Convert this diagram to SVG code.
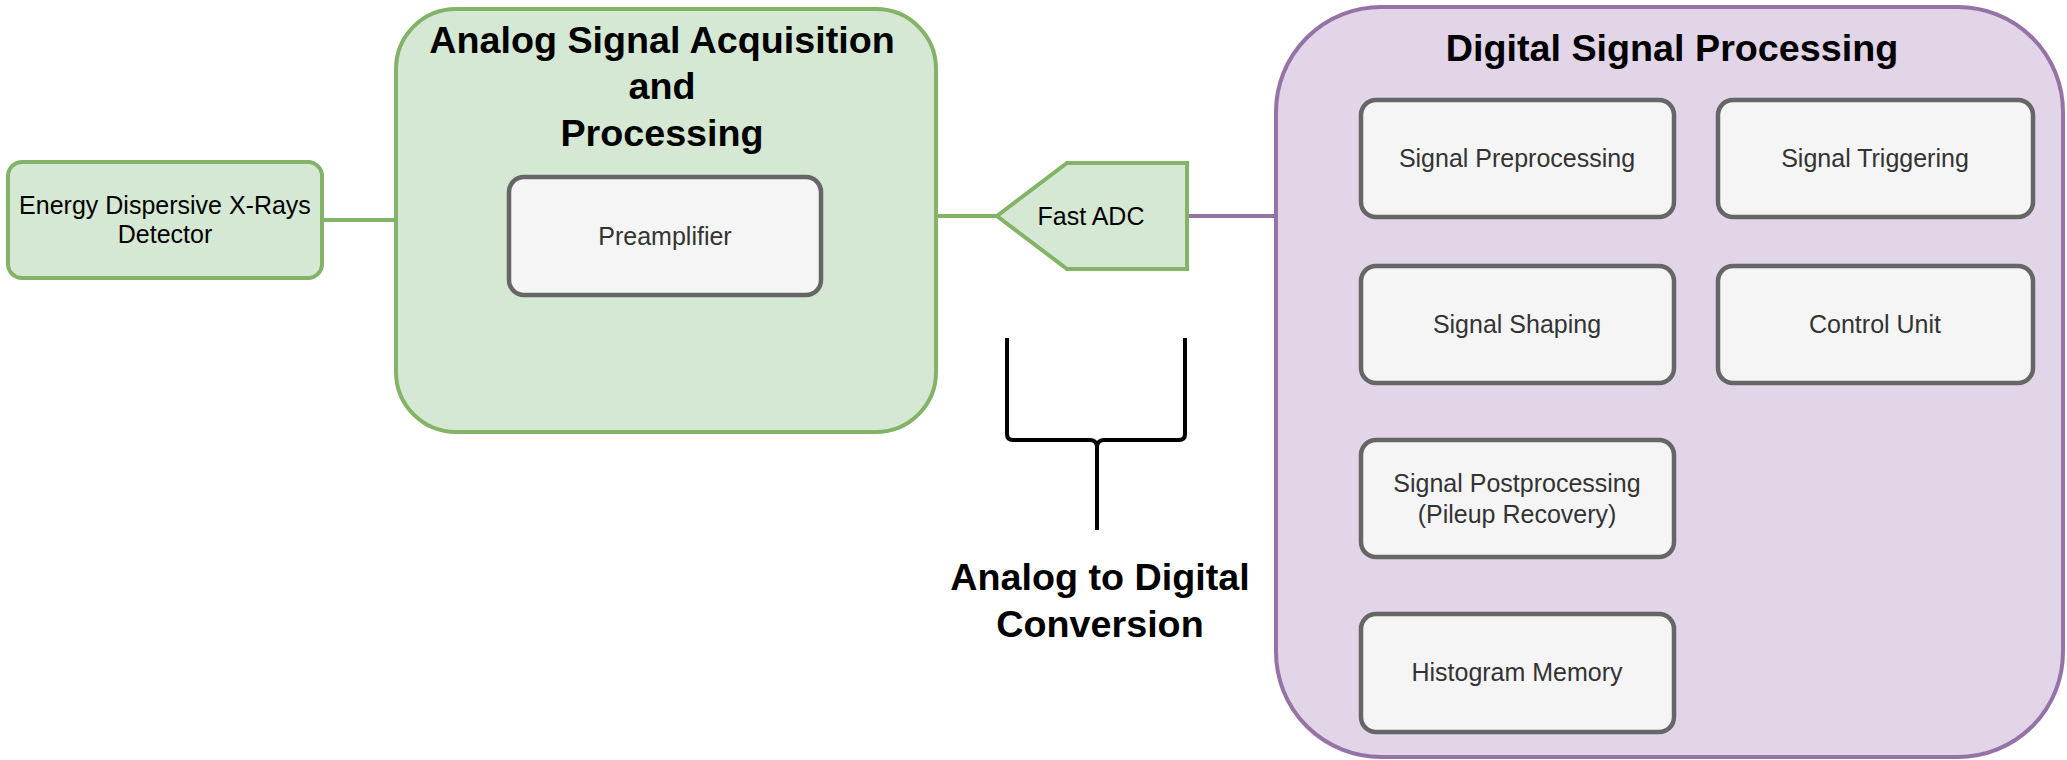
<svg xmlns="http://www.w3.org/2000/svg" width="2067" height="760" viewBox="0 0 2067 760">
<style>
.g{fill:#d5e8d4;stroke:#82b366;stroke-width:4}
.p{fill:#e1d5e7;stroke:#9673a6;stroke-width:4}
.w{fill:#f5f5f5;stroke:#666666;stroke-width:4.5}
.t{font-family:"Liberation Sans",Arial,sans-serif;font-size:25px;text-anchor:middle}
.d{fill:#333333}
.k{fill:#000000}
.b{font-family:"Liberation Sans",Arial,sans-serif;font-size:37.7px;font-weight:bold;text-anchor:middle;fill:#000000}
.cg{stroke:#82b366;stroke-width:4;fill:none}
.cp{stroke:#9673a6;stroke-width:4;fill:none}
</style>
<rect width="2067" height="760" fill="#ffffff"/>
<g id="connectors">
<line class="cg" x1="322" y1="220" x2="396" y2="220"/>
<line class="cg" x1="935" y1="216" x2="997" y2="216"/>
<line class="cp" x1="1187" y1="216" x2="1276" y2="216"/>
</g>
<g id="detector">
<rect class="g" x="8" y="162" width="314" height="116" rx="14"/>
<text class="t k" x="165" y="214">Energy Dispersive X-Rays</text>
<text class="t k" x="165" y="243">Detector</text>
</g>
<g id="analog">
<rect class="g" x="396" y="9" width="540" height="423" rx="60"/>
<text class="b" x="662" y="53">Analog Signal Acquisition</text>
<text class="b" x="662" y="99">and</text>
<text class="b" x="662" y="146">Processing</text>
</g>
<g id="preamp">
<rect class="w" x="509" y="177" width="312" height="118" rx="15"/>
<text class="t d" x="665" y="245">Preamplifier</text>
</g>
<g id="adc">
<polygon class="g" points="997,216 1067,163 1187,163 1187,269 1067,269"/>
<text class="t k" x="1091" y="225">Fast ADC</text>
</g>
<g id="brace">
<path d="M1007,338 V434 Q1007,440 1013,440 H1090 Q1096,440 1097,446 Q1098,440 1104,440 H1179 Q1185,440 1185,434 V338 M1097,446 V530" fill="none" stroke="#000000" stroke-width="4" stroke-linejoin="round"/>
<text class="b" x="1100" y="590">Analog to Digital</text>
<text class="b" x="1100" y="637">Conversion</text>
</g>
<g id="digital">
<rect class="p" x="1276" y="7" width="787" height="750" rx="105"/>
<text class="b" x="1672" y="61">Digital Signal Processing</text>
</g>
<g id="preproc">
<rect class="w" x="1361" y="100" width="313" height="117" rx="15"/>
<text class="t d" x="1517" y="167">Signal Preprocessing</text>
</g>
<g id="trigger">
<rect class="w" x="1718" y="100" width="315" height="117" rx="15"/>
<text class="t d" x="1875" y="167">Signal Triggering</text>
</g>
<g id="shaping">
<rect class="w" x="1361" y="266" width="313" height="117" rx="15"/>
<text class="t d" x="1517" y="333">Signal Shaping</text>
</g>
<g id="control">
<rect class="w" x="1718" y="266" width="315" height="117" rx="15"/>
<text class="t d" x="1875" y="333">Control Unit</text>
</g>
<g id="postproc">
<rect class="w" x="1361" y="440" width="313" height="117" rx="15"/>
<text class="t d" x="1517" y="492">Signal Postprocessing</text>
<text class="t d" x="1517" y="523">(Pileup Recovery)</text>
</g>
<g id="histogram">
<rect class="w" x="1361" y="614" width="313" height="118" rx="15"/>
<text class="t d" x="1517" y="681">Histogram Memory</text>
</g>
</svg>
